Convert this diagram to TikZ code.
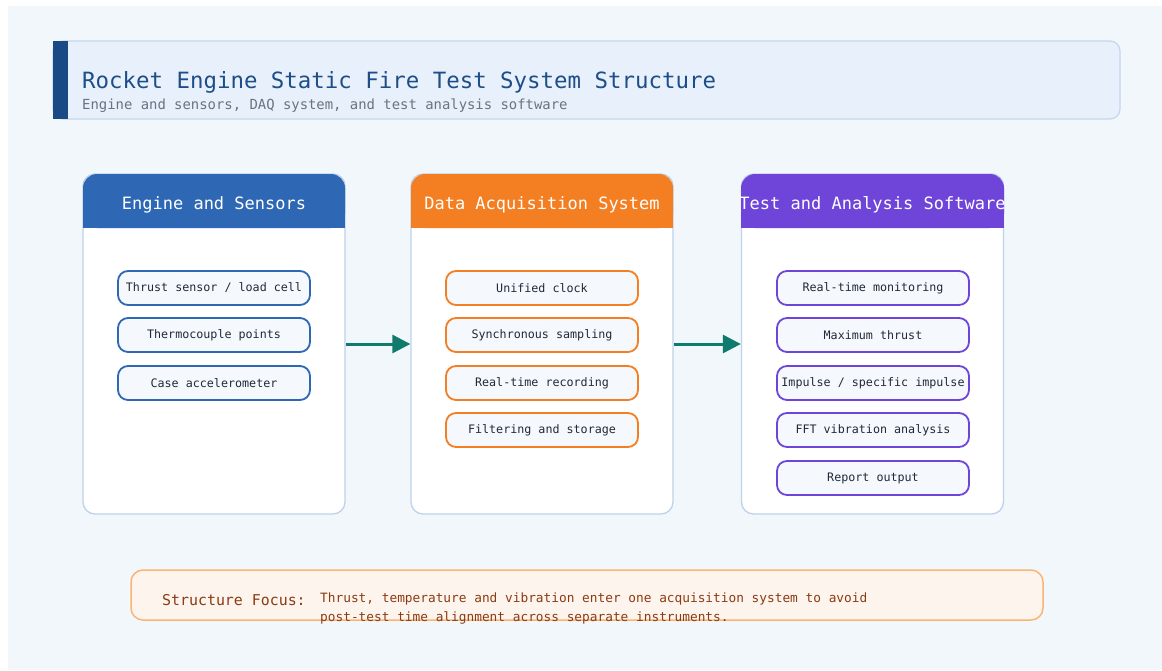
\documentclass[tikz,border=0pt]{standalone}
\usepackage{fontspec}
\setmainfont{DejaVu Sans Mono}
\usetikzlibrary{arrows.meta}
\definecolor{pagebg}{HTML}{F2F7FC}
\definecolor{hdrfill}{HTML}{E8F1FB}
\definecolor{hdrline}{HTML}{C3D7EE}
\definecolor{darkbar}{HTML}{1A4A85}
\definecolor{titlecol}{HTML}{1D4E89}
\definecolor{subcol}{HTML}{6B7280}
\definecolor{colline}{HTML}{BED2EA}
\definecolor{cblue}{HTML}{2E67B3}
\definecolor{corange}{HTML}{F47E22}
\definecolor{cpurple}{HTML}{6E45D8}
\definecolor{pillfill}{HTML}{F5F9FD}
\definecolor{pilltext}{HTML}{1F2937}
\definecolor{arrowcol}{HTML}{0F7B6C}
\definecolor{notefill}{HTML}{FEF4EE}
\definecolor{noteline}{HTML}{F9B574}
\definecolor{notetext}{HTML}{8A3B12}
\tikzset{
  colbody/.style={draw=colline, line width=1.3pt, fill=white, rounded corners=12pt,
    minimum width=262pt, minimum height=340pt, inner sep=0pt},
  colhead/.style={text=white, font=\fontsize{17}{20}\selectfont, inner sep=0pt},
  pill/.style={draw=#1, line width=1.8pt, rounded corners=10pt, fill=pillfill,
    minimum width=192pt, minimum height=34pt, inner sep=0pt, text=pilltext,
    font=\fontsize{11.7}{14}\selectfont},
  flow/.style={draw=arrowcol, line width=3pt, -{Triangle[length=18pt,width=18pt]}},
}
\begin{document}
\begin{tikzpicture}[x=1pt,y=-1pt]
\useasboundingbox (0,0) rectangle (1162,670);
\fill[white] (0,0) rectangle (1162,670);
\fill[pagebg] (8,6) rectangle (1162,670);
% header
\draw[draw=hdrline, fill=hdrfill, line width=1.2pt, rounded corners=10pt] (53,41) rectangle (1120,119);
\fill[darkbar] (53,41) rectangle (68,119);
\node[anchor=base west, inner sep=0pt, text=titlecol, font=\fontsize{22.4}{26}\selectfont] (title) at (82,88) {Rocket Engine Static Fire Test System Structure};
\node[anchor=base west, inner sep=0pt, text=subcol, font=\fontsize{13.9}{16}\selectfont] (subtitle) at (82,109) {Engine and sensors, DAQ system, and test analysis software};
% columns
\node[colbody] (c1) at (214,344) {};
\node[colbody] (c2) at (542,344) {};
\node[colbody] (c3) at (872.5,344) {};
\fill[cblue, rounded corners=14pt] (83,174) rectangle (345,228);
\fill[cblue] (83,200) rectangle (345,228);
\fill[corange, rounded corners=14pt] (411,174) rectangle (673,228);
\fill[corange] (411,200) rectangle (673,228);
\fill[cpurple, rounded corners=14pt] (741,174) rectangle (1004,228);
\fill[cpurple] (741,200) rectangle (1004,228);
\node[colhead] (h1) at (214,205) {Engine and Sensors};
\node[colhead] (h2) at (542,205) {Data Acquisition System};
\node[colhead] (h3) at (872.5,205) {Test and Analysis Software};
% items
\node[pill=cblue] (a1) at (214,288) {Thrust sensor / load cell};
\node[pill=cblue] (a2) at (214,335) {Thermocouple points};
\node[pill=cblue] (a3) at (214,383) {Case accelerometer};
\node[pill=corange] (b1) at (542,288) {Unified clock};
\node[pill=corange] (b2) at (542,335) {Synchronous sampling};
\node[pill=corange] (b3) at (542,383) {Real-time recording};
\node[pill=corange] (b4) at (542,430) {Filtering and storage};
\node[pill=cpurple] (d1) at (873,288) {Real-time monitoring};
\node[pill=cpurple] (d2) at (873,335) {Maximum thrust};
\node[pill=cpurple] (d3) at (873,383) {Impulse / specific impulse};
\node[pill=cpurple] (d4) at (873,430) {FFT vibration analysis};
\node[pill=cpurple] (d5) at (873,478) {Report output};
% arrows
\draw[flow] (c1.east) -- (c2.west);
\draw[flow] (c2.east) -- (c3.west);
% note
\node[draw=noteline, fill=notefill, line width=1.5pt, rounded corners=12pt, minimum width=912pt, minimum height=50pt, inner sep=0pt] (note) at (587,595) {};
\node[anchor=base west, inner sep=0pt, text=notetext, font=\fontsize{14.9}{17}\selectfont] (focus) at (162,605) {Structure Focus:};
\node[anchor=base west, inner sep=0pt, text=notetext, font=\fontsize{12.8}{15}\selectfont] (line1) at (320,602) {Thrust, temperature and vibration enter one acquisition system to avoid};
\node[anchor=base west, inner sep=0pt, text=notetext, font=\fontsize{12.8}{15}\selectfont] (line2) at (320,621) {post-test time alignment across separate instruments.};
\end{tikzpicture}
\end{document}
